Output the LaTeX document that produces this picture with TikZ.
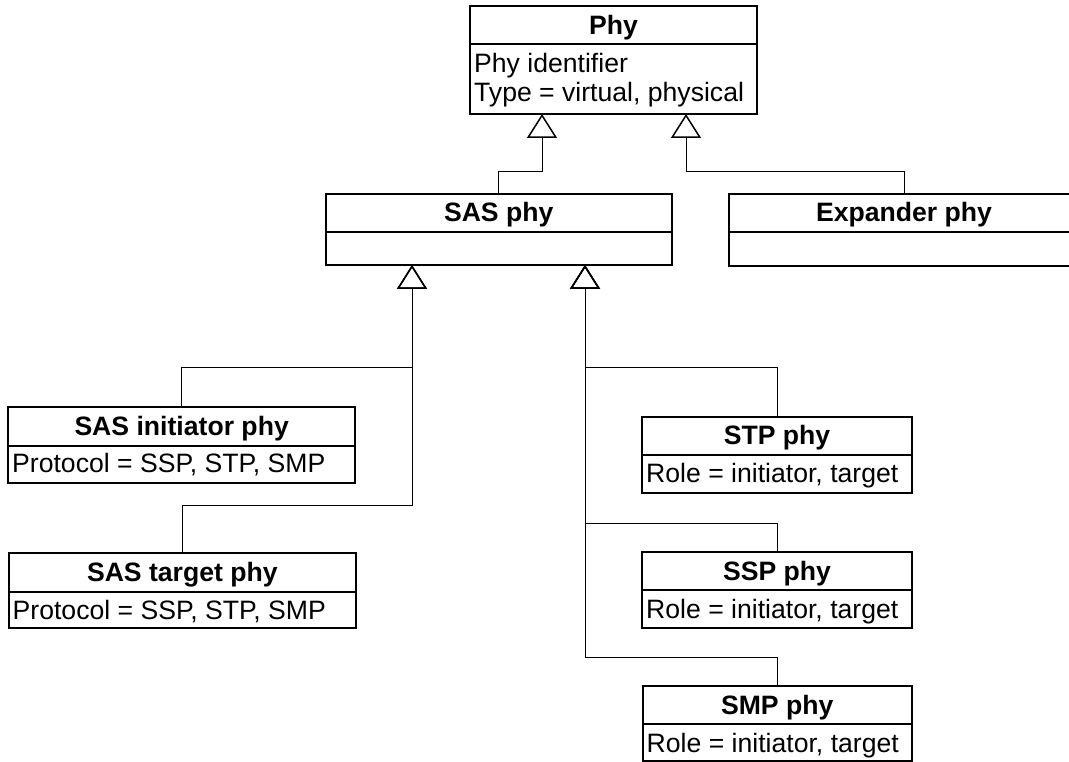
\documentclass[tikz,border=0pt]{standalone}
\usepackage{fontspec}
\setmainfont{Liberation Sans}
\usetikzlibrary{arrows.meta}
\begin{document}
\begin{tikzpicture}[x=1pt,y=-1pt,
  box/.style={draw, line width=1.7pt, inner sep=0pt, outer sep=0pt, anchor=north west},
  sepline/.style={line width=1.7pt},
  title/.style={font=\fontsize{26.6}{30}\selectfont\bfseries, inner sep=0pt, anchor=base},
  attr/.style={font=\fontsize{26.6}{30}\selectfont, inner sep=0pt, anchor=base west},
  inh/.style={line width=1pt, -{Triangle[open, length=24pt, width=30pt, line width=1.5pt]}}]
\useasboundingbox (0,0) rectangle (1069,762);

% Phy
\node[box, minimum width=287pt, minimum height=108pt] (phy) at (470,6) {};
\draw[sepline] (phy.west |- 0,44) -- (phy.east |- 0,44);
\node[title] (phyt) at (613.5,34.3) {Phy};
\node[attr] (phya1) at (474,72.7) {Phy identifier};
\node[attr] (phya2) at (474,101.7) {Type = virtual, physical};

% SAS phy
\node[box, minimum width=346pt, minimum height=71pt] (sas) at (325.7,194) {};
\draw[sepline] (sas.west |- 0,232) -- (sas.east |- 0,232);
\node[title] (sast) at (498.7,222) {SAS phy};

% Expander phy
\node[box, minimum width=349.7pt, minimum height=72pt] (exp) at (729.3,194) {};
\draw[sepline] (exp.west |- 0,232) -- (exp.east |- 0,232);
\node[title] (expt) at (904,222) {Expander phy};

% SAS initiator phy
\node[box, minimum width=346.7pt, minimum height=76pt] (init) at (8.3,407.3) {};
\draw[sepline] (init.west |- 0,445.7) -- (init.east |- 0,445.7);
\node[title] (initt) at (181.65,435) {SAS initiator phy};
\node[attr] (inita) at (12,472) {Protocol = SSP, STP, SMP};

% SAS target phy
\node[box, minimum width=346.7pt, minimum height=74.4pt] (tgt) at (9,553.3) {};
\draw[sepline] (tgt.west |- 0,591.7) -- (tgt.east |- 0,591.7);
\node[title] (tgtt) at (182.35,581) {SAS target phy};
\node[attr] (tgta) at (12.5,619) {Protocol = SSP, STP, SMP};

% STP phy
\node[box, minimum width=269.4pt, minimum height=76pt] (stp) at (642.3,416.7) {};
\draw[sepline] (stp.west |- 0,455) -- (stp.east |- 0,455);
\node[title] (stpt) at (777,444.3) {STP phy};
\node[attr] (stpa) at (646,482.7) {Role = initiator, target};

% SSP phy
\node[box, minimum width=269.4pt, minimum height=76pt] (ssp) at (642.3,552.3) {};
\draw[sepline] (ssp.west |- 0,590) -- (ssp.east |- 0,590);
\node[title] (sspt) at (777,580) {SSP phy};
\node[attr] (sspa) at (646,618) {Role = initiator, target};

% SMP phy
\node[box, minimum width=269pt, minimum height=75pt] (smp) at (642.7,686) {};
\draw[sepline] (smp.west |- 0,724) -- (smp.east |- 0,724);
\node[title] (smpt) at (777.2,714) {SMP phy};
\node[attr] (smpa) at (646.5,752) {Role = initiator, target};

% arrow tips
\coordinate (phyL) at (542,114);
\coordinate (phyR) at (686,114);
\coordinate (sasL) at (412,265);
\coordinate (sasR) at (585,265);

% connectors
\draw[inh] (sas.north) |- (542,172) -- (phyL);
\draw[inh] (exp.north) |- (686,172) -- (phyR);
\draw[inh] (init.north) |- (412,367.3) -- (sasL);
\draw[inh] (tgt.north) |- (412,505.7) -- (sasL);
\draw[inh] (stp.north) |- (585,367.3) -- (sasR);
\draw[inh] (ssp.north) |- (585,523.3) -- (sasR);
\draw[inh] (smp.north) |- (585,657.3) -- (sasR);
\end{tikzpicture}
\end{document}
